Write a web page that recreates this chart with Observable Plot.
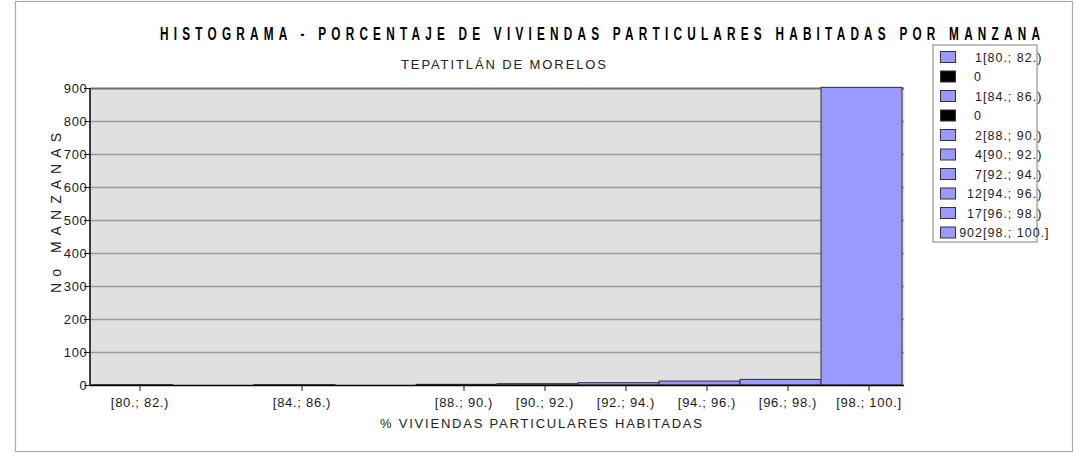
<!DOCTYPE html>
<html><head><meta charset="utf-8">
<script src="https://cdn.jsdelivr.net/npm/d3@7"></script>
<script src="https://cdn.jsdelivr.net/npm/@observablehq/plot@0.6"></script>
<style>body{margin:0;background:#fff;} #chart{position:relative;width:1078px;height:458px;}</style>
</head><body><div id="chart"></div>
<script>
const title = "HISTOGRAMA - PORCENTAJE DE VIVIENDAS PARTICULARES HABITADAS POR MANZANA";
const subtitle = "TEPATITLÁN DE MORELOS";
const xTitle = "% VIVIENDAS PARTICULARES HABITADAS";
const yTitle = "No MANZANAS";
const bins = ["[80.; 82.)","[82.; 84.)","[84.; 86.)","[86.; 88.)","[88.; 90.)","[90.; 92.)","[92.; 94.)","[94.; 96.)","[96.; 98.)","[98.; 100.]"];
const counts = [1, 0, 1, 0, 2, 4, 7, 12, 17, 902];
const yTicks = [0, 100, 200, 300, 400, 500, 600, 700, 800, 900];

const data = bins.map((b, i) => ({bin: b, count: counts[i]}));
const labeled = bins.filter((b, i) => counts[i] > 0);
const font = "'Liberation Sans', Arial, sans-serif";

const plot = Plot.plot({
  width: 1078, height: 458,
  marginLeft: 90, marginRight: 174, marginTop: 88, marginBottom: 73,
  style: {fontFamily: font, fontSize: "13px", color: "#1a1a1a", background: "transparent", letterSpacing: "0.7px"},
  x: {type: "band", domain: bins, padding: 0},
  y: {domain: [0, 900]},
  marks: [
    Plot.frame({fill: "#e0e0e0", stroke: null}),
    Plot.gridY(yTicks.filter(t => t > 0 && t < 900), {stroke: "#9a9a9a", strokeOpacity: 1, strokeWidth: 1.3}),
    Plot.ruleY([900], {stroke: "#707070", strokeWidth: 2}),
    Plot.barY(data, {x: "bin", y: "count", fill: "#9999ff", stroke: "#303030", strokeWidth: 1}),
    Plot.ruleY([0], {stroke: "#000", strokeWidth: 1.5}),
    Plot.axisX({ticks: labeled, tickSize: 6, tickPadding: 6, label: null, dx: 7, fontSize: 13}),
    Plot.axisY({ticks: yTicks, tickSize: 6, tickPadding: -3, label: null, fontSize: 13})
  ]
});
document.getElementById("chart").appendChild(plot);

const svg = d3.select(plot);
const xr = plot.scale("x").range;
const yr = plot.scale("y").range;
// left axis line
svg.append("line").attr("x1", xr[0]).attr("x2", xr[0]).attr("y1", yr[0]).attr("y2", yr[1])
  .attr("stroke", "#000").attr("stroke-width", 1.5);
// outer frame
svg.insert("rect", ":first-child").attr("x", 15.5).attr("y", 1.5).attr("width", 1057).attr("height", 450)
  .attr("fill", "none").attr("stroke", "#aaa").attr("stroke-width", 1.2);

// title
svg.append("text").attr("transform", "translate(160,40) scale(0.62,1)")
  .attr("textLength", 880 / 0.62).attr("lengthAdjust", "spacing")
  .attr("text-anchor", "start").attr("fill", "#000")
  .style("font-weight", "bold").style("font-size", "19px").style("letter-spacing", "0")
  .text(title);
// subtitle
svg.append("text").attr("x", 401).attr("y", 69)
  .attr("textLength", 205).attr("lengthAdjust", "spacing")
  .attr("text-anchor", "start").attr("fill", "#222")
  .style("font-size", "13px").style("letter-spacing", "0")
  .text(subtitle);
// x title
svg.append("text").attr("x", 380).attr("y", 428)
  .attr("textLength", 322).attr("lengthAdjust", "spacing")
  .attr("text-anchor", "start").attr("fill", "#222")
  .style("font-size", "13px").style("letter-spacing", "0")
  .text(xTitle);
// y title
svg.append("text").attr("transform", "translate(61,293) rotate(-90)")
  .attr("textLength", 160).attr("lengthAdjust", "spacing")
  .attr("text-anchor", "start").attr("fill", "#222")
  .style("font-size", "14px").style("letter-spacing", "0")
  .text(yTitle);

// legend
const lg = svg.append("g");
lg.append("rect").attr("x", 933).attr("y", 45).attr("width", 104).attr("height", 197)
  .attr("fill", "#fff").attr("stroke", "#aaa").attr("stroke-width", 1.5);
bins.forEach((b, i) => {
  const cy = 57 + i * 19.5;
  lg.append("rect").attr("x", 940.5).attr("y", cy - 5.5).attr("width", 15).attr("height", 11)
    .attr("fill", counts[i] > 0 ? "#9999ff" : "#000").attr("stroke", "#333").attr("stroke-width", 1);
  lg.append("text").attr("x", counts[i] > 0 ? 983 : 982).attr("y", cy + 4.5)
    .attr("text-anchor", "end").attr("fill", "#222").style("font-size", "12.5px").style("letter-spacing", "1px")
    .text(counts[i]);
  if (counts[i] > 0) {
    lg.append("text").attr("x", 983).attr("y", cy + 4.5)
      .attr("text-anchor", "start").attr("fill", "#222").style("font-size", "12.5px").style("letter-spacing", "1px")
      .text(b);
  }
});
</script>
</body></html>
